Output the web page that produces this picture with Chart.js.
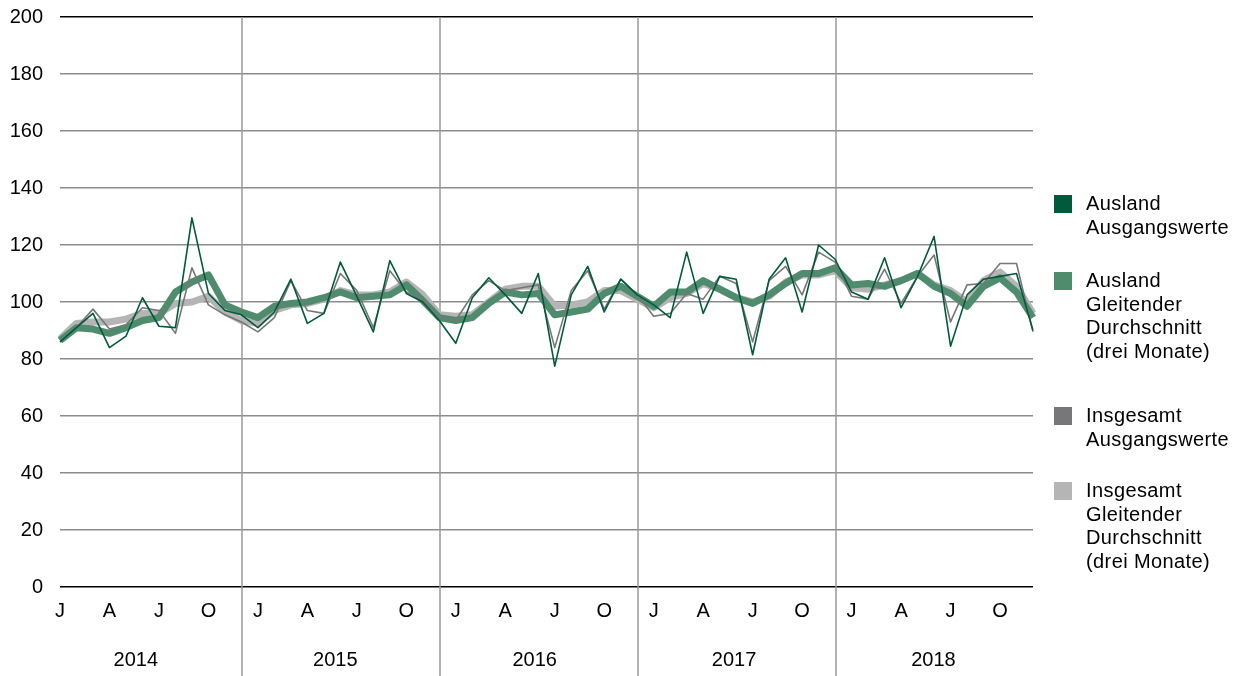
<!DOCTYPE html>
<html>
<head>
<meta charset="utf-8">
<script src="https://cdn.jsdelivr.net/npm/chart.js@4.4.1/dist/chart.umd.min.js"></script>
<style>
    body { margin: 0; background: #fff; font-family: "Liberation Sans", Arial, sans-serif; }
    #wrap { position: relative; width: 1240px; height: 676px; }
    .legend-item { position: absolute; left: 1054px; }
    .legend-box { position: absolute; left: 0; top: 0; width: 18px; height: 18px; }
    .legend-text { position: absolute; left: 32px; top: -3px; font-size: 20px; letter-spacing: 0.4px; line-height: 23.5px; color: #000; white-space: nowrap; }
</style>
</head>
<body>
<div id="wrap">
    <canvas id="chart" width="1240" height="676"></canvas>
    <div id="legend"></div>
</div>
<script>
// Monthly values, Jan 2014 - Dec 2018
const years = ["2014", "2015", "2016", "2017", "2018"];
const monthTicks = ["J", "", "", "A", "", "", "J", "", "", "O", "", ""];
const yTicks = [0, 20, 40, 60, 80, 100, 120, 140, 160, 180, 200];

const auslandRaw = [
    86, 91, 96, 84, 88, 101.5, 91.5, 91, 129.5, 103, 97, 95.5,
    91, 96.5, 108, 92.5, 96, 114, 102, 89.5, 114.5, 103, 100, 93.5,
    85.5, 101.5, 108.5, 102.5, 96, 110, 77.5, 102.5, 112.5, 96.5, 108, 102.5,
    99, 94.5, 117.5, 96, 109, 108, 81.5, 108, 115.5, 96.5, 120, 115,
    103.5, 101, 115.5, 98, 109, 123, 84.5, 102.5, 108, 109, 110, 90
];
const auslandAvg = [
    86.5, 91, 90.5, 89, 91, 93.5, 94.5, 103.5, 107, 109.5, 99, 96.5,
    94.5, 98.5, 99.5, 100, 101.5, 103.5, 101.5, 102, 102.5, 106, 100.5, 94.5,
    93.5, 94.5, 99.5, 103.5, 102.5, 103, 95.5, 96.5, 97.5, 103, 105.5, 102,
    98.5, 103.5, 103.5, 107.5, 104.5, 101.5, 99.5, 102.5, 106.5, 110, 110, 112,
    106, 106.5, 105.5, 107.5, 110, 105.5, 103, 98.5, 105.5, 108.5, 103.5, 94.5
];
const totalRaw = [
    86, 91, 97.5, 90.5, 92, 98, 97, 89, 112, 99, 95.5, 93,
    89.5, 94.5, 107.5, 97, 96, 110, 104, 91, 111, 103.5, 101, 94.5,
    93.5, 102.5, 107.5, 104, 105, 106, 84, 104, 111, 97.5, 108, 102.5,
    95, 96, 103, 101, 109, 106.5, 86, 107.5, 112.5, 102.5, 117.5, 114,
    102, 101, 111.5, 99.5, 109, 116.5, 93, 106, 106.5, 113.5, 113.5, 89.5
];
const totalAvg = [
    87, 92.5, 93, 93, 94, 96, 96, 99.5, 100, 102, 96.5, 93.5,
    92.5, 97, 99, 99.5, 101, 104, 102.5, 102.5, 103.5, 107, 102.5, 95.5,
    95, 95.5, 100, 104.5, 105.5, 105.5, 98.5, 99, 100, 104, 104, 101,
    98, 101.5, 103, 106.5, 104.5, 101.5, 100, 102, 107, 109.5, 109.5, 111,
    105, 104.5, 106, 107.5, 110, 106, 104, 100, 107.5, 110.5, 105.5, 96
];

const seriesNames = [
    ["Ausland", "Ausgangswerte"],
    ["Ausland", "Gleitender", "Durchschnitt", "(drei Monate)"],
    ["Insgesamt", "Ausgangswerte"],
    ["Insgesamt", "Gleitender", "Durchschnitt", "(drei Monate)"]
];

const colors = {
    auslandRaw: "#005a3c",
    auslandAvg: "#4f8c6d",
    totalRaw: "#77777a",
    totalAvg: "#b5b5b5"
};

const FONT = "Liberation Sans";

const labels = [];
years.forEach(y => monthTicks.forEach((m, i) => labels.push(y + "-" + (i + 1))));

// year separators and year labels under the axis
const yearPlugin = {
    id: "yearPlugin",
    beforeDatasetsDraw(chart) {
        const ctx = chart.ctx;
        const x = chart.scales.x;
        const step = x.getPixelForValue(1) - x.getPixelForValue(0);
        ctx.save();
        ctx.strokeStyle = "#9a9a9a";
        ctx.lineWidth = 1.5;
        for (let k = 1; k < years.length; k++) {
            const px = Math.round(x.getPixelForValue(k * 12 - 1) + step * 0.05);
            ctx.beginPath();
            ctx.moveTo(px, chart.chartArea.top);
            ctx.lineTo(px, chart.height);
            ctx.stroke();
        }
        ctx.restore();
    },
    afterDraw(chart) {
        const ctx = chart.ctx;
        const x = chart.scales.x;
        const step = x.getPixelForValue(1) - x.getPixelForValue(0);
        ctx.save();
        ctx.fillStyle = "#000";
        ctx.font = "20px '" + FONT + "'";
        ctx.textAlign = "center";
        ctx.textBaseline = "middle";
        years.forEach((y, k) => {
            ctx.fillText(y, x.getPixelForValue(k * 12) + step * 4.6 + k * 1.5, 660);
        });
        ctx.restore();
    }
};

function lineSet(label, data, color, width) {
    return {
        label: label,
        data: data,
        borderColor: color,
        backgroundColor: color,
        borderWidth: width,
        pointRadius: 0,
        tension: 0,
        fill: false,
        borderJoinStyle: "round",
        borderCapStyle: "butt"
    };
}

new Chart(document.getElementById("chart"), {
    type: "line",
    data: {
        labels: labels,
        datasets: [
            lineSet(seriesNames[0].join(" "), auslandRaw, colors.auslandRaw, 1.6),
            lineSet(seriesNames[2].join(" "), totalRaw, colors.totalRaw, 1.6),
            lineSet(seriesNames[1].join(" "), auslandAvg, colors.auslandAvg, 7),
            lineSet(seriesNames[3].join(" "), totalAvg, colors.totalAvg, 7)
        ]
    },
    options: {
        responsive: false,
        animation: false,
        devicePixelRatio: 1,
        layout: { padding: { left: 0, right: 207, top: 17, bottom: 0 } },
        plugins: {
            legend: { display: false },
            tooltip: { enabled: false }
        },
        scales: {
            x: {
                offset: false,
                grid: { display: false, drawTicks: false },
                border: { display: false },
                ticks: {
                    autoSkip: false,
                    maxRotation: 0,
                    minRotation: 0,
                    padding: 12,
                    color: "#000",
                    font: { family: FONT, size: 20 },
                    callback: (val, idx) => monthTicks[idx % 12]
                },
                afterFit: scale => {
                    scale.height = 89;
                    scale.paddingLeft = 0;
                    scale.paddingRight = 0;
                }
            },
            y: {
                min: 0,
                max: 200,
                afterBuildTicks: scale => { scale.ticks = yTicks.map(v => ({ value: v })); },
                grid: {
                    drawTicks: false,
                    lineWidth: 1.5,
                    color: ctx => (ctx.tick.value === 0 || ctx.tick.value === 200) ? "#000" : "#8c8c8c"
                },
                border: { display: false },
                ticks: {
                    padding: 17,
                    color: "#000",
                    font: { family: FONT, size: 20 }
                },
                afterFit: scale => {
                    scale.width = 60;
                    scale.paddingTop = 0;
                    scale.paddingBottom = 0;
                }
            }
        }
    },
    plugins: [yearPlugin]
});

// legend on the right
const legendTops = [195, 272, 407, 482];
const legendColors = [colors.auslandRaw, colors.auslandAvg, colors.totalRaw, colors.totalAvg];
document.getElementById("legend").innerHTML = seriesNames.map((lines, i) => `
    <div class="legend-item" style="top:${legendTops[i]}px">
        <div class="legend-box" style="background:${legendColors[i]}"></div>
        <div class="legend-text">${lines.join("<br>")}</div>
    </div>
`).join("");
</script>
</body>
</html>
